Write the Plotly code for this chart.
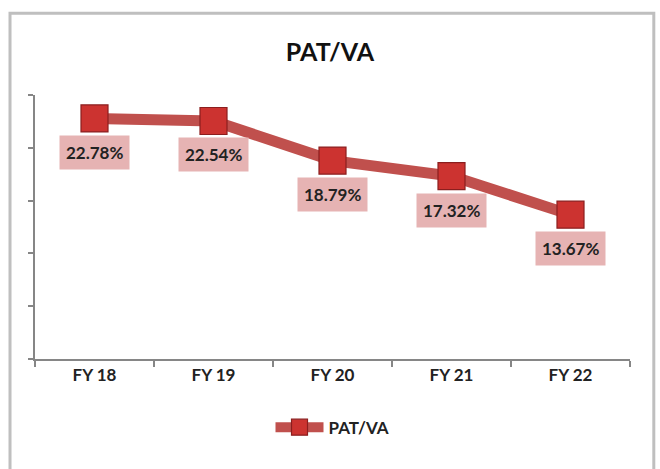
import plotly.graph_objects as go

categories = ["FY 18", "FY 19", "FY 20", "FY 21", "FY 22"]
pat_va = [22.78, 22.54, 18.79, 17.32, 13.67]
labels = ["22.78%", "22.54%", "18.79%", "17.32%", "13.67%"]
series_name = "PAT/VA"

FONT = "Lato"
W, H = 660, 469
fig = go.Figure()
fig.add_trace(go.Scatter(
    x=categories, y=pat_va, name=series_name, mode="lines+markers",
    line=dict(color="#C0504D", width=11),
    marker=dict(symbol="square", size=27, color="#CC3330",
                line=dict(color="#8B1E1E", width=1.2)),
))

for c, v, t in zip(categories, pat_va, labels):
    fig.add_annotation(x=c, y=v, xref="x", yref="y", text=t, showarrow=False,
                       yshift=-34, bgcolor="#E6B3B3", borderpad=6,
                       font=dict(family=FONT, size=17, color="#222222", weight="bold"))

fig.add_shape(type="rect", xref="paper", yref="paper",
              x0=-0.042, x1=1.040, y0=-0.5, y1=1.31,
              line=dict(color="#BFBFBF", width=3), layer="below")

fig.update_layout(
    width=W, height=H,
    margin=dict(l=35, r=30, t=95, b=110),
    paper_bgcolor="white", plot_bgcolor="white",
    title=dict(text="<b>PAT/VA</b>", x=330 / W, xanchor="center", y=1 - 52 / H, yanchor="middle",
               font=dict(family=FONT, size=25, color="#111111")),
    xaxis=dict(type="category", showgrid=False, showline=True, linecolor="#868686", linewidth=1.5,
               ticks="outside", tickson="boundaries", ticklen=6, tickcolor="#868686", tickwidth=1.5,
               tickfont=dict(family=FONT, size=17, color="#222222", weight="bold"),
               range=[-0.5, 4.5]),
    yaxis=dict(range=[0, 25], dtick=5, showgrid=False, showline=True, linecolor="#868686", linewidth=1.5,
               ticks="outside", ticklen=5, tickcolor="#868686", tickwidth=1.5,
               showticklabels=False, zeroline=False),
    showlegend=True,
    legend=dict(orientation="h", x=0.5, xanchor="center", y=-0.26, yanchor="middle",
                font=dict(family=FONT, size=17, color="#222222", weight="bold"),
                itemwidth=48),
)

fig.write_html("out.html", config={"displayModeBar": False},
               post_script="document.body.style.margin='0px';document.body.style.overflow='hidden';")
